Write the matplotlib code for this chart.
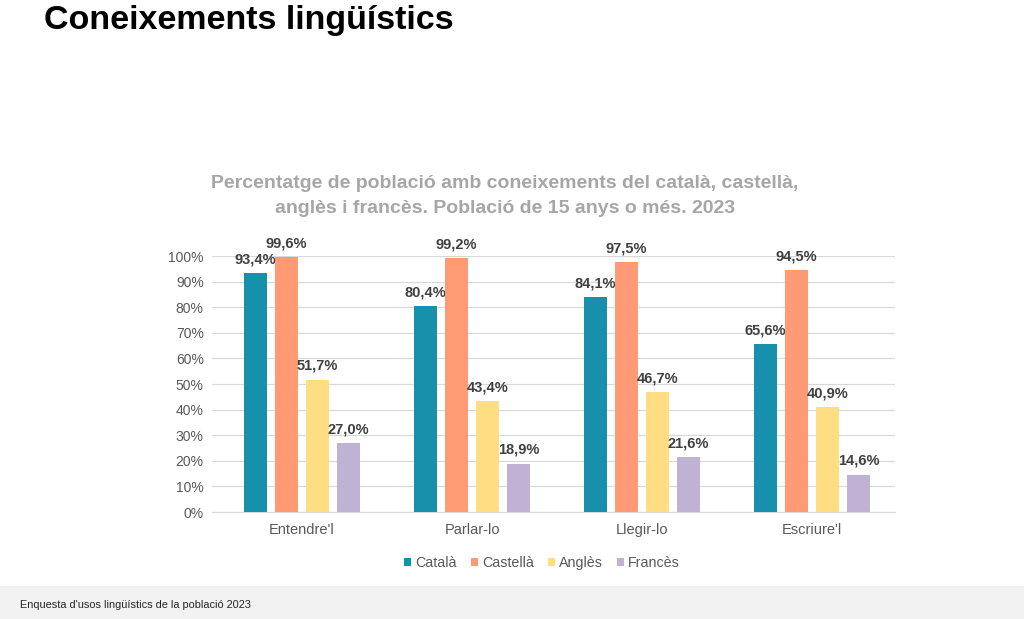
import matplotlib
matplotlib.use("Agg")
import matplotlib.pyplot as plt
import numpy as np
from matplotlib.patches import Rectangle

plt.rcParams['font.family'] = ['Liberation Sans', 'DejaVu Sans']

categories = ["Entendre'l", "Parlar-lo", "Llegir-lo", "Escriure'l"]
series_names = ["Català", "Castellà", "Anglès", "Francès"]
catala = [93.4, 80.4, 84.1, 65.6]
castella = [99.6, 99.2, 97.5, 94.5]
angles = [51.7, 43.4, 46.7, 40.9]
frances = [27.0, 18.9, 21.6, 14.6]
yticks = [0, 10, 20, 30, 40, 50, 60, 70, 80, 90, 100]

colors = ["#1690ab", "#ff9b74", "#ffde83", "#c0b2d4"]
series = [catala, castella, angles, frances]

fig = plt.figure(figsize=(10.24, 6.19), dpi=100)
fig.patch.set_facecolor("white")

# footer band
fig.patches.append(Rectangle((0, 0), 1, 33/619, transform=fig.transFigure,
                             facecolor="#f2f2f2", edgecolor="none", zorder=0))
fig.text(20/1024, 1 - 605/619, "Enquesta d'usos lingüístics de la població 2023",
         fontsize=7.9, color="#262626", va="center", ha="left")

fig.text(44/1024, 1 - 21/619, "Coneixements lingüístics", fontsize=24.5,
         fontweight="bold", color="black", va="center", ha="left")

fig.text(505/1024, 1 - 196/619,
         "Percentatge de població amb coneixements del català, castellà,\nanglès i francès. Població de 15 anys o més. 2023",
         fontsize=14, fontweight="bold", color="#a6a6a6", ha="center", va="center",
         linespacing=1.6)

# grid background axes spanning the full gridline width
axg = fig.add_axes([212/1024, 1 - 512/619, 683/1024, 256/619])
axg.set_ylim(0, 100)
axg.set_yticks(yticks)
axg.set_yticklabels([f"{t}%" for t in yticks])
axg.set_xticks([])
axg.tick_params(axis="y", length=0, labelsize=10, labelcolor="#595959", pad=6)
axg.yaxis.grid(True, color="#d9d9d9", linewidth=0.9)
for s in ["top", "right", "left"]:
    axg.spines[s].set_visible(False)
axg.spines["bottom"].set_color("#d9d9d9")
axg.set_zorder(0)

ax = fig.add_axes([217/1024, 1 - 512/619, 680/1024, 256/619])
ax.patch.set_alpha(0)
x = np.arange(len(categories))
step = 0.182
width = 0.14
for i, (name, vals, c) in enumerate(zip(series_names, series, colors)):
    pos = x + (i - 1.5) * step
    ax.bar(pos, vals, width=width, color=c, label=name, zorder=3)
    for p, v in zip(pos, vals):
        ax.text(p, v + 2.6, f"{v:.1f}%".replace(".", ","), ha="center", va="bottom",
                fontsize=10.5, fontweight="bold", color="#404040", clip_on=False)

ax.set_xlim(-0.5, 3.5)
ax.set_ylim(0, 100)
ax.set_yticks([])
ax.set_xticks(x)
ax.set_xticklabels(categories)
ax.tick_params(axis="x", length=0, labelsize=10.5, labelcolor="#595959", pad=8)
for s in ["top", "right", "left", "bottom"]:
    ax.spines[s].set_visible(False)

leg = fig.legend(loc="center", bbox_to_anchor=(542/1024, 1 - 563/619), ncol=4,
                 frameon=False, fontsize=10.3, handlelength=0.5, handleheight=0.5,
                 handletextpad=0.3, columnspacing=0.95)
for t in leg.get_texts():
    t.set_color("#595959")

fig.savefig("out.png", dpi=100, facecolor="white")
